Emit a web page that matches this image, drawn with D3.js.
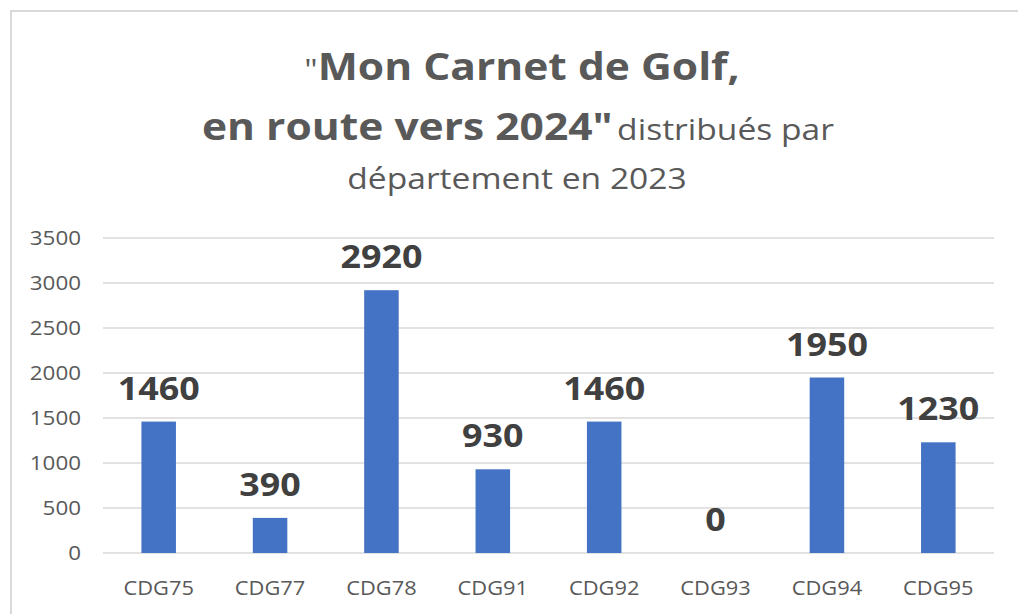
<!DOCTYPE html>
<html>
<head>
<meta charset="utf-8">
<script src="https://cdn.jsdelivr.net/npm/d3@7"></script>
<style>
    body { margin: 0; background: #fff; }
    svg { display: block; font-family: "Open Sans", sans-serif; }
</style>
</head>
<body>
<svg id="chart" width="1018" height="614"></svg>
<script>
let categories = ["CDG75", "CDG77", "CDG78", "CDG91", "CDG92", "CDG93", "CDG94", "CDG95"];
let values = [1460, 390, 2920, 930, 1460, 0, 1950, 1230];
let yTicks = [0, 500, 1000, 1500, 2000, 2500, 3000, 3500];

// the picture is a bit stretched sideways, so every text gets this
let stretch = 1.12;

let svg = d3.select("#chart");

// frame (only top and left edges are visible)
svg.append("path")
    .attr("d", "M11,614V11H1018")
    .attr("fill", "none")
    .attr("stroke", "#d9d9d9")
    .attr("stroke-width", 2);

let x = d3.scaleBand()
    .domain(categories)
    .range([103, 994])
    .paddingInner(0.69)
    .paddingOuter(0.345);

let y = d3.scaleLinear()
    .domain([0, 3500])
    .range([553, 238]);

function stretchedText(parent, px, py) {
    return parent.append("text")
        .attr("transform", `translate(${px},${py}) scale(${stretch},1)`);
}

// gridlines
svg.append("g")
    .selectAll("line")
    .data(yTicks)
    .join("line")
    .attr("x1", 103)
    .attr("x2", 994)
    .attr("y1", d => y(d))
    .attr("y2", d => y(d))
    .attr("stroke", "#d9d9d9")
    .attr("stroke-width", 1.5);

// y tick labels
let tickGroup = svg.append("g");
for (let t of yTicks) {
    stretchedText(tickGroup, 81, y(t) + 7)
        .attr("text-anchor", "end")
        .attr("font-size", 20)
        .attr("fill", "#595959")
        .text(t);
}

// bars
svg.append("g")
    .selectAll("rect")
    .data(values)
    .join("rect")
    .attr("x", (d, i) => x(categories[i]))
    .attr("width", x.bandwidth())
    .attr("y", d => y(d))
    .attr("height", d => y(0) - y(d))
    .attr("fill", "#4472c4");

// data labels
let labelGroup = svg.append("g");
values.forEach((v, i) => {
    stretchedText(labelGroup, x(categories[i]) + x.bandwidth() / 2, y(v) - 22)
        .attr("text-anchor", "middle")
        .attr("font-size", 32)
        .attr("font-weight", "bold")
        .attr("fill", "#404040")
        .text(v);
});

// category labels
let catGroup = svg.append("g");
categories.forEach(c => {
    stretchedText(catGroup, x(c) + x.bandwidth() / 2, 595)
        .attr("text-anchor", "middle")
        .attr("font-size", 19.5)
        .attr("fill", "#595959")
        .text(c);
});

// title
let title = svg.append("g").attr("fill", "#595959");
let line1 = stretchedText(title, 522, 80).attr("text-anchor", "middle");
line1.append("tspan").attr("font-size", 30).text("\"");
line1.append("tspan").attr("font-size", 38).attr("font-weight", "bold").text("Mon Carnet de Golf,");

let line2 = stretchedText(title, 518, 140).attr("text-anchor", "middle");
line2.append("tspan").attr("font-size", 38).attr("font-weight", "bold").text("en route vers 2024\"");
line2.append("tspan").attr("font-size", 30).attr("dx", 4).text("distribués par");

stretchedText(title, 517, 189)
    .attr("text-anchor", "middle")
    .attr("font-size", 30)
    .text("département en 2023");
</script>
</body>
</html>
